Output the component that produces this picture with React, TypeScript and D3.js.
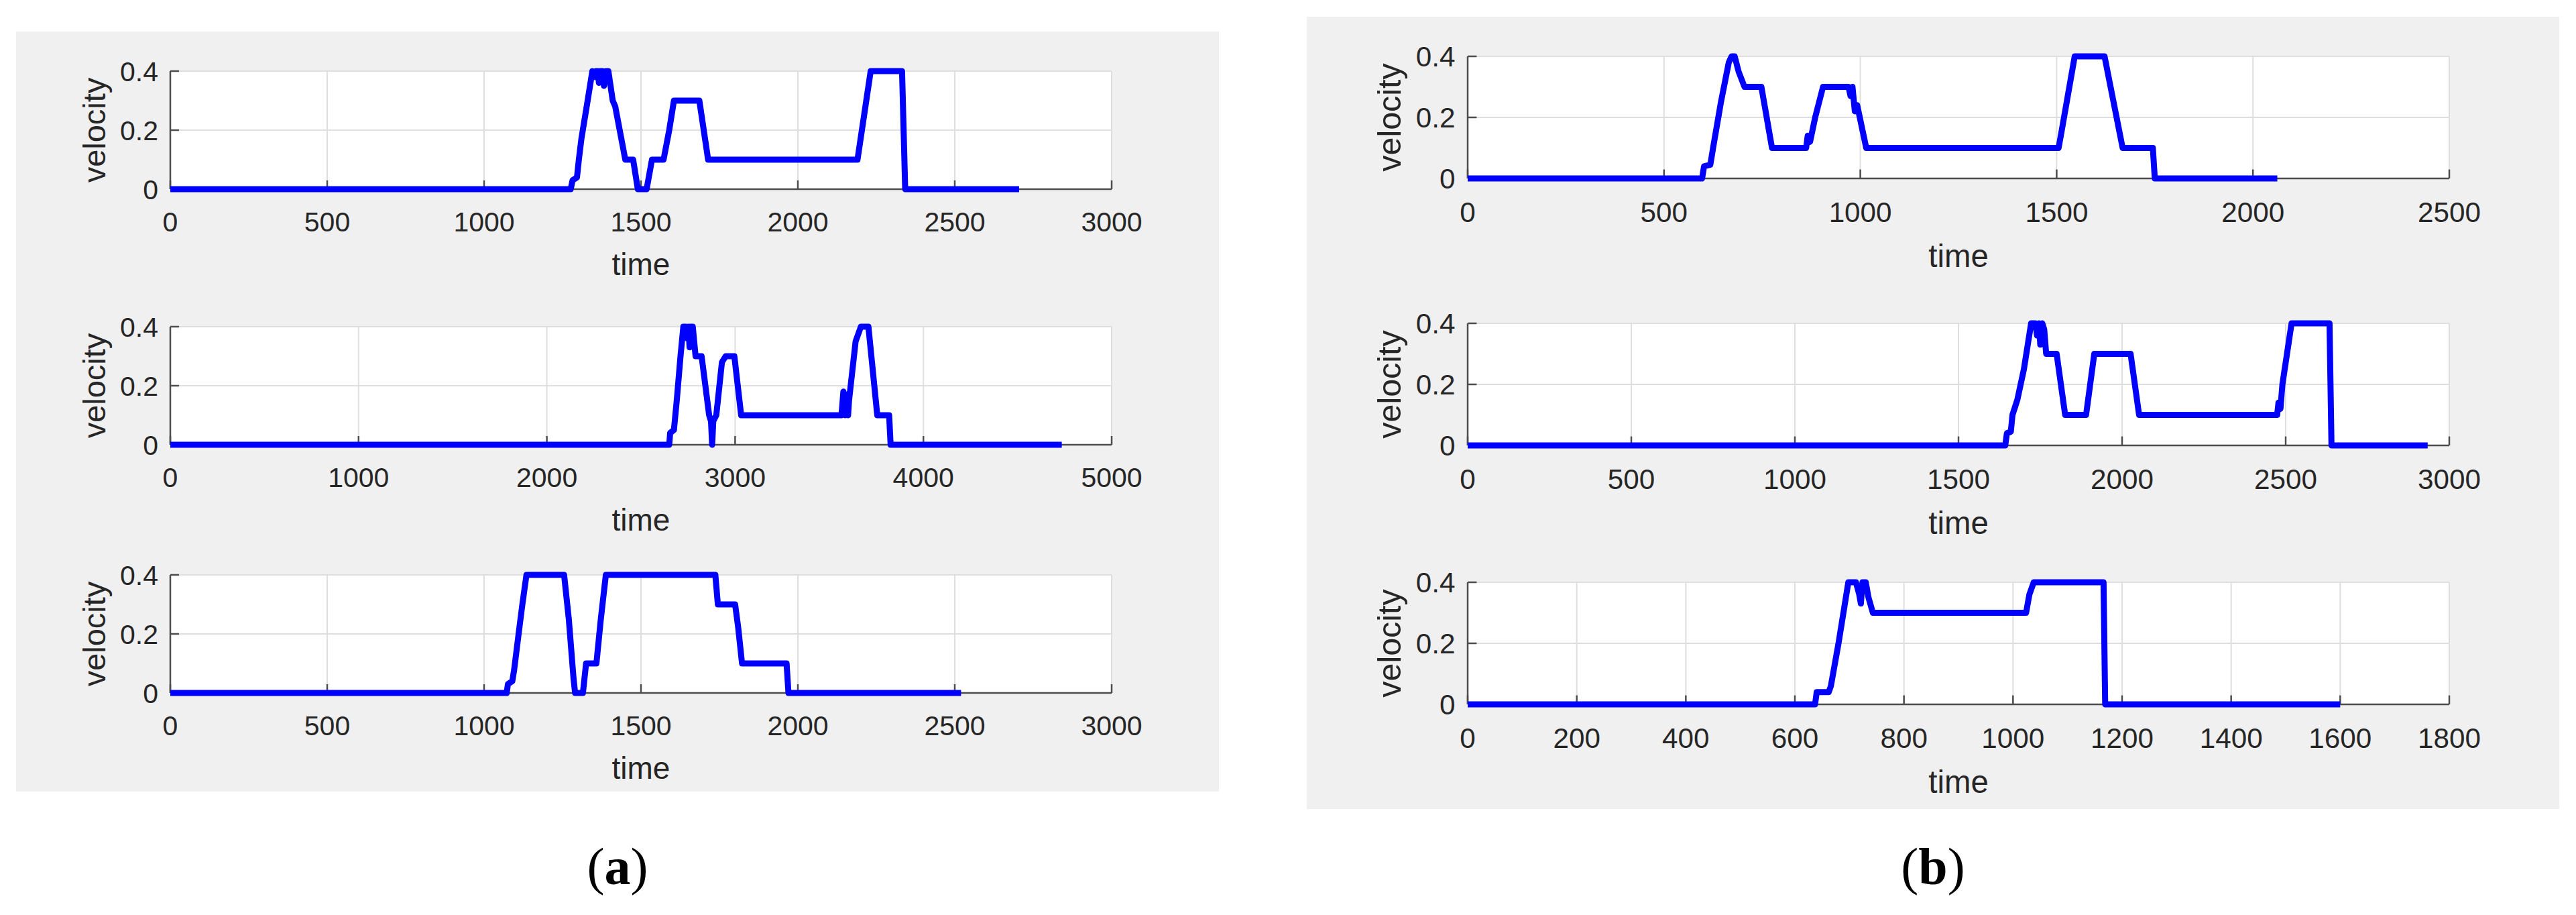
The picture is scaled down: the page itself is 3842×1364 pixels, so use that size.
import React from 'react';
import * as d3 from 'd3';

// ---------- data ----------
const yTicks = [0, 0.2, 0.4];
const yTickLabels = ['0', '0.2', '0.4'];

// (a) top
const a1Time = [0, 1276, 1282, 1296, 1302, 1310, 1330, 1345, 1352, 1356, 1362, 1366, 1370, 1378, 1382, 1388, 1396, 1410, 1418, 1450, 1475, 1490, 1518, 1535, 1572, 1590, 1605, 1686, 1714, 2190, 2232, 2332, 2342, 2705];
const a1Vel = [0, 0, 0.03, 0.04, 0.1, 0.17, 0.3, 0.4, 0.38, 0.4, 0.4, 0.36, 0.4, 0.4, 0.35, 0.4, 0.4, 0.3, 0.28, 0.1, 0.1, 0, 0, 0.1, 0.1, 0.2, 0.3, 0.3, 0.1, 0.1, 0.4, 0.4, 0, 0];
const a1XTicks = [0, 500, 1000, 1500, 2000, 2500, 3000];

// (a) middle
const a2Time = [0, 2650, 2655, 2675, 2690, 2710, 2725, 2738, 2745, 2752, 2758, 2762, 2775, 2790, 2822, 2862, 2872, 2878, 2884, 2900, 2930, 2950, 2996, 3032, 3565, 3575, 3585, 3592, 3600, 3605, 3640, 3668, 3708, 3755, 3818, 3826, 4735];
const a2Vel = [0, 0, 0.04, 0.05, 0.15, 0.3, 0.4, 0.4, 0.36, 0.4, 0.33, 0.4, 0.4, 0.3, 0.3, 0.1, 0.08, 0, 0.08, 0.1, 0.28, 0.3, 0.3, 0.1, 0.1, 0.18, 0.1, 0.17, 0.1, 0.15, 0.35, 0.4, 0.4, 0.1, 0.1, 0, 0];
const a2XTicks = [0, 1000, 2000, 3000, 4000, 5000];

// (a) bottom
const a3Time = [0, 1072, 1076, 1090, 1096, 1110, 1122, 1135, 1255, 1270, 1285, 1290, 1315, 1325, 1358, 1372, 1388, 1737, 1745, 1800, 1810, 1822, 1964, 1970, 2520];
const a3Vel = [0, 0, 0.03, 0.04, 0.08, 0.2, 0.3, 0.4, 0.4, 0.25, 0.05, 0, 0, 0.1, 0.1, 0.25, 0.4, 0.4, 0.3, 0.3, 0.22, 0.1, 0.1, 0, 0];
const a3XTicks = [0, 500, 1000, 1500, 2000, 2500, 3000];

// (b) top
const b1Time = [0, 597, 602, 618, 625, 645, 665, 672, 680, 690, 705, 748, 775, 862, 866, 872, 885, 905, 970, 975, 980, 986, 992, 1015, 1505, 1512, 1546, 1622, 1668, 1745, 1750, 2062];
const b1Vel = [0, 0, 0.04, 0.045, 0.1, 0.25, 0.38, 0.4, 0.4, 0.35, 0.3, 0.3, 0.1, 0.1, 0.14, 0.12, 0.2, 0.3, 0.3, 0.27, 0.3, 0.22, 0.24, 0.1, 0.1, 0.15, 0.4, 0.4, 0.1, 0.1, 0, 0];
const b1XTicks = [0, 500, 1000, 1500, 2000, 2500];

// (b) middle
const b2Time = [0, 1643, 1648, 1660, 1665, 1680, 1700, 1722, 1735, 1740, 1746, 1750, 1756, 1762, 1768, 1800, 1826, 1890, 1915, 2026, 2052, 2474, 2478, 2484, 2490, 2518, 2634, 2640, 2934];
const b2Vel = [0, 0, 0.04, 0.045, 0.1, 0.15, 0.25, 0.4, 0.4, 0.36, 0.4, 0.33, 0.4, 0.38, 0.3, 0.3, 0.1, 0.1, 0.3, 0.3, 0.1, 0.1, 0.14, 0.12, 0.2, 0.4, 0.4, 0, 0];
const b2XTicks = [0, 500, 1000, 1500, 2000, 2500, 3000];

// (b) bottom
const b3Time = [0, 637, 640, 662, 666, 680, 698, 712, 718, 721, 724, 730, 735, 743, 1024, 1030, 1038, 1166, 1169, 1600];
const b3Vel = [0, 0, 0.04, 0.04, 0.06, 0.2, 0.4, 0.4, 0.36, 0.33, 0.4, 0.4, 0.35, 0.3, 0.3, 0.36, 0.4, 0.4, 0, 0];
const b3XTicks = [0, 200, 400, 600, 800, 1000, 1200, 1400, 1600, 1800];

const xLabel = 'time';
const yLabel = 'velocity';
const panelLetters = ['a', 'b'];

// ---------- drawing ----------
const TXT = '#262626';
const FONT = '"Liberation Sans", Arial, Helvetica, sans-serif';

type SubProps = {
  t: number[];
  v: number[];
  xTicks: number[];
  left: number;
  right: number;
  top: number;
  bottom: number;
  s: number;
};

function Subplot({ t, v, xTicks, left, right, top, bottom, s }: SubProps) {
  const xMax = xTicks[xTicks.length - 1];
  const x = d3.scaleLinear().domain([0, xMax]).range([left, right]);
  const y = d3.scaleLinear().domain([0, 0.4]).range([bottom, top]);
  const pts: [number, number][] = t.map((tt, i) => [tt, v[i]]);
  const line = d3
    .line<[number, number]>()
    .x((d) => x(d[0]))
    .y((d) => y(d[1]));
  const tickLen = 13 * s;
  const midX = (left + right) / 2;
  const midY = (top + bottom) / 2;
  return (
    <g>
      <rect x={left} y={top} width={right - left} height={bottom - top} fill="#ffffff" />
      {xTicks.map((tk) => (
        <line key={'gx' + tk} x1={x(tk)} x2={x(tk)} y1={top} y2={bottom} stroke="#dedede" strokeWidth={2} />
      ))}
      {yTicks.map((tk) => (
        <line key={'gy' + tk} x1={left} x2={right} y1={y(tk)} y2={y(tk)} stroke="#dedede" strokeWidth={2} />
      ))}
      <line x1={left} x2={right} y1={bottom} y2={bottom} stroke="#4d4d4d" strokeWidth={2.5} />
      <line x1={left} x2={left} y1={top} y2={bottom} stroke="#4d4d4d" strokeWidth={2.5} />
      {xTicks.map((tk) => (
        <line key={'tx' + tk} x1={x(tk)} x2={x(tk)} y1={bottom} y2={bottom - tickLen} stroke="#4d4d4d" strokeWidth={2.5} />
      ))}
      {yTicks.map((tk) => (
        <line key={'ty' + tk} x1={left} x2={left + tickLen} y1={y(tk)} y2={y(tk)} stroke="#4d4d4d" strokeWidth={2.5} />
      ))}
      {xTicks.map((tk) => (
        <text key={'lx' + tk} x={x(tk)} y={bottom + 63 * s} textAnchor="middle" fontFamily={FONT} fontSize={41 * s} fill={TXT}>
          {String(tk)}
        </text>
      ))}
      {yTicks.map((tk, i) => (
        <text key={'ly' + tk} x={left - 18 * s} y={y(tk) + 14.5 * s} textAnchor="end" fontFamily={FONT} fontSize={41 * s} fill={TXT}>
          {yTickLabels[i]}
        </text>
      ))}
      <text x={midX} y={bottom + 128 * s} textAnchor="middle" fontFamily={FONT} fontSize={46 * s} fill={TXT}>
        {xLabel}
      </text>
      <text
        x={0}
        y={0}
        transform={`translate(${left - 97 * s},${midY}) rotate(-90)`}
        textAnchor="middle"
        fontFamily={FONT}
        fontSize={47 * s}
        fill={TXT}
      >
        {yLabel}
      </text>
      <path d={line(pts) || ''} fill="none" stroke="#0000ff" strokeWidth={9} strokeLinejoin="round" strokeLinecap="butt" />
    </g>
  );
}

export default function App() {
  const A = { left: 254, right: 1658, tops: [106, 487, 857], h: 176, s: 1 };
  const B = { left: 2189, right: 3653, tops: [84, 482, 868], h: 182, s: 1.03 };
  const aSeries = [
    { t: a1Time, v: a1Vel, ticks: a1XTicks },
    { t: a2Time, v: a2Vel, ticks: a2XTicks },
    { t: a3Time, v: a3Vel, ticks: a3XTicks },
  ];
  const bSeries = [
    { t: b1Time, v: b1Vel, ticks: b1XTicks },
    { t: b2Time, v: b2Vel, ticks: b2XTicks },
    { t: b3Time, v: b3Vel, ticks: b3XTicks },
  ];
  return (
    <svg
      width={3842}
      height={1364}
      style={{ position: 'absolute', left: 0, top: 0, background: '#ffffff' }}
    >
      <rect x={0} y={0} width={3842} height={1364} fill="#ffffff" />
      <rect x={24} y={47} width={1818 - 24} height={1180 - 47} fill="#f0f0f0" />
      <rect x={1949} y={25} width={3817 - 1949} height={1206 - 25} fill="#f0f0f0" />
      {aSeries.map((d, i) => (
        <Subplot key={'a' + i} t={d.t} v={d.v} xTicks={d.ticks} left={A.left} right={A.right} top={A.tops[i]} bottom={A.tops[i] + A.h} s={A.s} />
      ))}
      {bSeries.map((d, i) => (
        <Subplot key={'b' + i} t={d.t} v={d.v} xTicks={d.ticks} left={B.left} right={B.right} top={B.tops[i]} bottom={B.tops[i] + B.h} s={B.s} />
      ))}
      {[921, 2883].map((cx, i) => (
        <text key={'p' + i} x={cx} y={1318} textAnchor="middle" fontFamily='"Liberation Serif", "Times New Roman", serif' fontSize={78} fill="#000000">
          (<tspan fontWeight="bold">{panelLetters[i]}</tspan>)
        </text>
      ))}
    </svg>
  );
}
